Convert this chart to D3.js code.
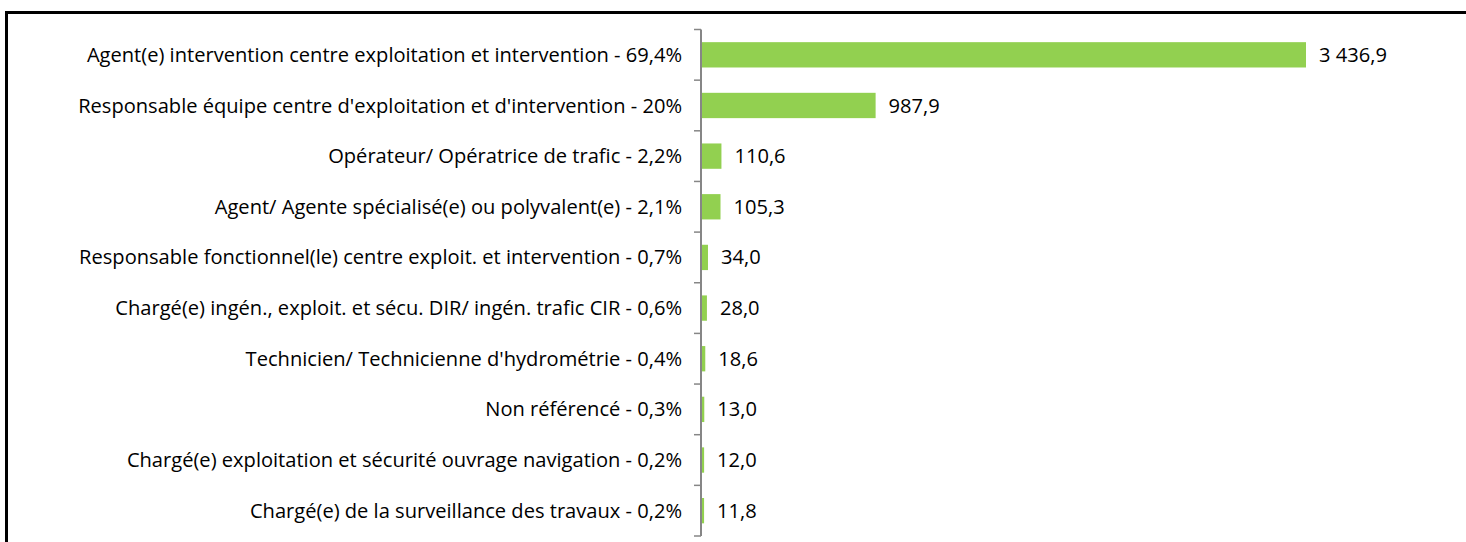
<!DOCTYPE html>
<html>
<head>
<meta charset="utf-8">
<script src="https://cdn.jsdelivr.net/npm/d3@7"></script>
<style>
  html, body { margin: 0; padding: 0; background: #fff; }
  svg { display: block; }
  text { font-family: "Open Sans", sans-serif; fill: #000; }
</style>
</head>
<body>
<svg id="chart" width="1466" height="542"></svg>
<script>
// Effectifs par métier (ETP) et part dans le total
const categories = [
  "Agent(e) intervention centre exploitation et intervention - 69,4%",
  "Responsable équipe centre d'exploitation et d'intervention - 20%",
  "Opérateur/ Opératrice de trafic - 2,2%",
  "Agent/ Agente spécialisé(e) ou polyvalent(e) - 2,1%",
  "Responsable fonctionnel(le) centre exploit. et intervention - 0,7%",
  "Chargé(e) ingén., exploit. et sécu. DIR/ ingén. trafic CIR - 0,6%",
  "Technicien/ Technicienne d'hydrométrie - 0,4%",
  "Non référencé - 0,3%",
  "Chargé(e) exploitation et sécurité ouvrage navigation - 0,2%",
  "Chargé(e) de la surveillance des travaux - 0,2%"
];
const values = [3436.9, 987.9, 110.6, 105.3, 34.0, 28.0, 18.6, 13.0, 12.0, 11.8];

const svg = d3.select("#chart");
const W = 1466, H = 542;
const axisX = 701, plotTop = 29.5, plotBottom = 536;

// Cadre (bords gauche et haut)
svg.append("path")
  .attr("d", `M6.5,${H} L6.5,12.5 L${W},12.5`)
  .attr("fill", "none").attr("stroke", "#000").attr("stroke-width", 3);

const y = d3.scaleBand().domain(categories).range([plotTop, plotBottom]).paddingInner(0.5).paddingOuter(0.25);
const x = d3.scaleLinear().domain([0, 3436.9]).range([axisX + 1, 1306]);

const fmt = v => d3.formatLocale({decimal: ",", thousands: "\u2009", grouping: [3]}).format(",.1f")(v).replace("\u2009", " ");

svg.selectAll("rect.bar").data(values).join("rect")
  .attr("class", "bar")
  .attr("x", x(0))
  .attr("y", (d, i) => y(categories[i]))
  .attr("width", d => x(d) - x(0))
  .attr("height", y.bandwidth())
  .attr("fill", "#92D050");

// Axe des catégories
const ticks = d3.range(categories.length + 1).map(i => plotTop + i * (plotBottom - plotTop) / categories.length);
svg.append("line").attr("x1", axisX).attr("x2", axisX).attr("y1", plotTop).attr("y2", plotBottom)
  .attr("stroke", "#868686").attr("stroke-width", 2);
svg.selectAll("line.tick").data(ticks).join("line")
  .attr("class", "tick")
  .attr("x1", axisX - 7).attr("x2", axisX).attr("y1", d => d).attr("y2", d => d)
  .attr("stroke", "#868686").attr("stroke-width", 1.5);

svg.selectAll("text.cat").data(categories).join("text")
  .attr("class", "cat")
  .attr("x", 682)
  .attr("y", d => y(d) + y.bandwidth() / 2)
  .attr("dy", "0.35em")
  .attr("text-anchor", "end")
  .attr("font-size", 20.1)
  .text(d => d);

svg.selectAll("text.val").data(values).join("text")
  .attr("class", "val")
  .attr("x", d => x(d) + 13)
  .attr("y", (d, i) => y(categories[i]) + y.bandwidth() / 2)
  .attr("dy", "0.35em")
  .attr("font-size", 20.1)
  .text(d => fmt(d));
</script>
</body>
</html>
